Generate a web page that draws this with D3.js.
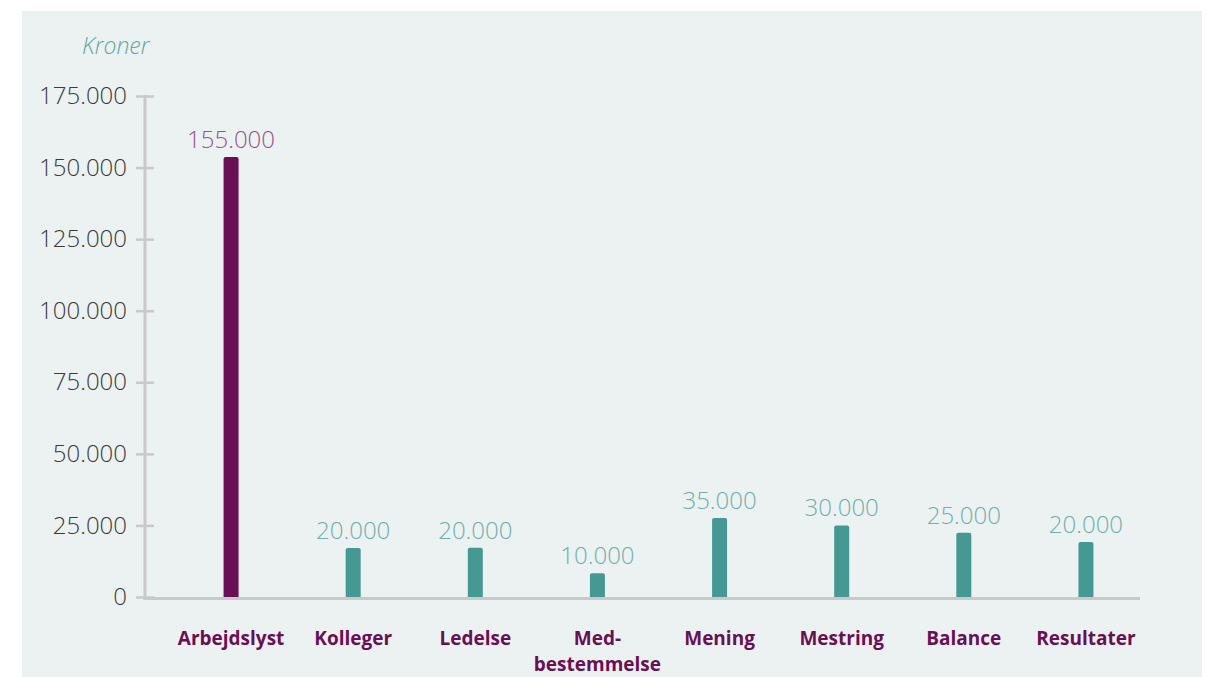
<!DOCTYPE html>
<html>
<head>
<meta charset="utf-8">
<script src="https://cdn.jsdelivr.net/npm/d3@7"></script>
<style>
  html, body { margin: 0; padding: 0; background: #fff; }
  svg { display: block; }
  .num { font-family: "Open Sans", Lato, sans-serif; font-weight: 300; }
  .cat { font-family: "Open Sans", Lato, sans-serif; font-weight: 700; }
</style>
</head>
<body>
<div class="chart"></div>
<script>
// categories along the x axis (Danish)
var categories = ["Arbejdslyst", "Kolleger", "Ledelse", "Med-\nbestemmelse", "Mening", "Mestring", "Balance", "Resultater"];
// amounts printed above each bar
var amountLabels = [155000, 20000, 20000, 10000, 35000, 30000, 25000, 20000];
// bar heights as they are drawn in the picture (kroner)
var barValues = [153700, 17100, 17200, 8300, 27600, 25000, 22400, 19200];
var yTicks = [0, 25000, 50000, 75000, 100000, 125000, 150000, 175000];

var width = 1207,
    height = 677,
    axisX = 145,
    baseY = 597,
    topY = 96,
    barW = 15;

var purple = "#6a0f55",
    purpleText = "#9a5489",
    teal = "#469993",
    tealText = "#6cb1ab",
    axisGrey = "#c9c9c9";

var da = d3.formatLocale({decimal: ",", thousands: ".", grouping: [3], currency: ["", " kr."]});
var fmt = da.format(",");

var svg = d3.select(".chart").append("svg")
    .attr("width", width)
    .attr("height", height);

// panel
svg.append("rect")
    .attr("x", 22)
    .attr("y", 11)
    .attr("width", 1180)
    .attr("height", 666)
    .style("fill", "#ecf1f1");

var x = d3.scaleBand()
    .domain(categories)
    .range([170, 1147])
    .paddingInner(0.877)
    .paddingOuter(0.4385);

var y = d3.scaleLinear()
    .domain([0, 175000])
    .range([baseY, topY]);

// y axis
var yAxis = svg.append("g")
    .attr("transform", "translate(" + axisX + ",0)")
    .call(d3.axisLeft(y).tickValues(yTicks).tickFormat(fmt).tickSize(9).tickPadding(9).tickSizeOuter(0));

yAxis.select(".domain").remove();
yAxis.selectAll(".tick line")
    .attr("x1", 9)
    .style("stroke", axisGrey)
    .style("stroke-width", 2.5);
yAxis.selectAll(".tick text")
    .attr("class", "num")
    .style("font-size", "24px")
    .style("fill", "#3b3b3b");

svg.append("line")
    .attr("x1", axisX).attr("x2", axisX)
    .attr("y1", topY - 1).attr("y2", baseY + 3)
    .style("stroke", axisGrey)
    .style("stroke-width", 3);

// x axis line
svg.append("line")
    .attr("x1", axisX - 1.5).attr("x2", 1140)
    .attr("y1", baseY + 1.5).attr("y2", baseY + 1.5)
    .style("stroke", axisGrey)
    .style("stroke-width", 3);

// bars
function barPath(d, i) {
    var x0 = x(categories[i]) + (x.bandwidth() - barW) / 2,
        x1 = x0 + barW,
        yt = y(d),
        r = 2;
    return "M" + x0 + "," + baseY +
        "V" + (yt + r) +
        "Q" + x0 + "," + yt + " " + (x0 + r) + "," + yt +
        "H" + (x1 - r) +
        "Q" + x1 + "," + yt + " " + x1 + "," + (yt + r) +
        "V" + baseY + "Z";
}

svg.selectAll(".bar")
    .data(barValues)
    .enter().append("path")
    .attr("class", "bar")
    .attr("d", barPath)
    .style("fill", function(d, i) { return i === 0 ? purple : teal; });

// value labels
svg.selectAll(".val")
    .data(amountLabels)
    .enter().append("text")
    .attr("class", "num")
    .attr("x", function(d, i) { return x(categories[i]) + x.bandwidth() / 2; })
    .attr("y", function(d, i) { return y(barValues[i]) - 9; })
    .attr("text-anchor", "middle")
    .style("font-size", "24px")
    .style("fill", function(d, i) { return i === 0 ? purpleText : tealText; })
    .text(function(d) { return fmt(d); });

// category labels
var cats = svg.selectAll(".catLabel")
    .data(categories)
    .enter().append("text")
    .attr("class", "cat")
    .attr("text-anchor", "middle")
    .attr("y", 645)
    .style("font-size", "19px")
    .style("fill", purple);

cats.each(function(d) {
    var t = d3.select(this),
        cx = x(d) + x.bandwidth() / 2,
        lines = d.split("\n");
    lines.forEach(function(l, k) {
        t.append("tspan")
            .attr("x", cx)
            .attr("dy", k === 0 ? 0 : 26)
            .text(l);
    });
});

// unit label
svg.append("text")
    .attr("x", 82)
    .attr("y", 54)
    .style("font-family", "'Open Sans', Lato, sans-serif")
    .style("font-style", "italic")
    .style("font-weight", 300)
    .style("font-size", "23px")
    .style("fill", "#5ea9a2")
    .text("Kroner");
</script>
</body>
</html>
